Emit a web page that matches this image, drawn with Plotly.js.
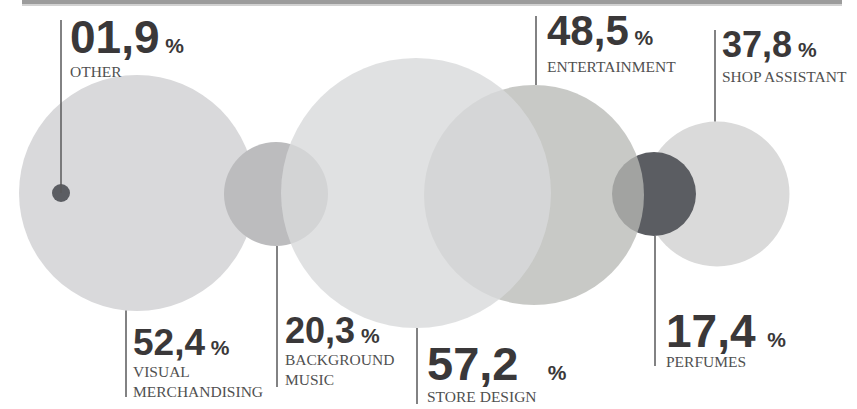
<!DOCTYPE html>
<html>
<head>
<meta charset="utf-8">
<script src="https://cdn.plot.ly/plotly-3.0.1.min.js"></script>
<style>html,body{margin:0;padding:0;background:#fff;}#chart{width:857px;height:409px;}</style>
</head>
<body>
<div id="chart"></div>
<script>
// ---- data (drawing order: back to front) ----
const categories = ['VISUAL MERCHANDISING', 'OTHER', 'BACKGROUND MUSIC', 'SHOP ASSISTANT', 'PERFUMES', 'ENTERTAINMENT', 'STORE DESIGN'];
const labelText  = ['VISUAL<br>MERCHANDISING', 'OTHER', 'BACKGROUND<br>MUSIC', 'SHOP ASSISTANT', 'PERFUMES', 'ENTERTAINMENT', 'STORE DESIGN'];
const values     = [52.4, 1.9, 20.3, 37.8, 17.4, 48.5, 57.2];

// ---- layout (positions in plot units, 1 unit = 1 px) ----
const cx      = [137, 61, 276, 717, 654, 534, 416];
const cy      = [193, 193, 194, 194, 194, 195, 193];
const radius  = [118, 9, 52, 72.5, 42, 110, 135];
const side    = ['bottom', 'top', 'bottom', 'top', 'bottom', 'top', 'bottom'];
const lineX   = [126, 61, 277, 715, 655, 536, 417];
const lineEnd = [397, 20, 387, 30, 366, 16, 404];
const numX    = [131, 68, 283, 720, 664, 545, 425];
const numBase = [355, 53, 343, 57, 347, 45, 380];
const labBase = [377, 77, 365, 82, 367, 72, 402];

// ---- styles ----
const fill    = ['#d9d9db', '#5b5d62', '#bcbcbe', '#dadada', '#5b5d62', 'rgb(184,185,181)', 'rgb(216,217,219)'];
const alpha   = [1, 1, 1, 1, 1, 0.77, 0.8];
const numSize = [37, 46, 36, 36, 46, 42, 47];
const pctGap  = [1, 1, 1, 1, 2, 1, 5];
const pctSize = 21;
const labSize = 15.5;
const numColor = '#3a3839';
const labColor = '#505050';
const lineColor = '#58585a';

// circles
const circles = {
  type: 'scatter', mode: 'markers', x: cx, y: cy, hoverinfo: 'skip',
  marker: { size: radius.map(r => 2 * r), color: fill, opacity: alpha, line: { width: 0 } }
};

// leader lines from circle edge to label
const lx = [], ly = [];
for (let i = 0; i < cx.length; i++) {
  const dx = lineX[i] - cx[i];
  const h = Math.sqrt(Math.max(radius[i] * radius[i] - dx * dx, 0));
  const start = categories[i] === 'OTHER' ? cy[i] : (side[i] === 'top' ? cy[i] - h : cy[i] + h);
  lx.push(lineX[i], lineX[i], null);
  ly.push(start, lineEnd[i], null);
}
const lines = {
  type: 'scatter', mode: 'lines', x: lx, y: ly, hoverinfo: 'skip',
  line: { color: lineColor, width: 1.5 }
};

function fmt(v) { return v.toFixed(1).replace('.', ',').padStart(4, '0'); }

const annotations = [];
for (let i = 0; i < values.length; i++) {
  const f = numSize[i];
  annotations.push({
    xref: 'x', yref: 'y', x: numX[i], y: numBase[i] + 2 + 0.212 * f,
    xanchor: 'left', yanchor: 'bottom', showarrow: false, align: 'left',
    text: fmt(values[i]) + '<span style="font-size:' + pctSize + 'px">' + '\u00A0'.repeat(pctGap[i]) + '%</span>',
    font: { family: 'Liberation Sans, Arial, sans-serif', size: f, color: numColor, weight: 700 }
  });
  annotations.push({
    xref: 'x', yref: 'y', x: numX[i], y: labBase[i] - 2 - 0.891 * labSize,
    xanchor: 'left', yanchor: 'top', showarrow: false, align: 'left',
    text: labelText[i],
    font: { family: 'Liberation Serif, Times New Roman, serif', size: labSize, color: labColor }
  });
}

const layout = {
  width: 857, height: 409,
  margin: { l: 0, r: 0, t: 0, b: 0 },
  paper_bgcolor: '#ffffff', plot_bgcolor: '#ffffff',
  showlegend: false,
  xaxis: { range: [0, 857], visible: false, fixedrange: true },
  yaxis: { range: [409, 0], visible: false, fixedrange: true },
  annotations: annotations,
  shapes: [
    { type: 'rect', xref: 'x', yref: 'y', x0: 22, x1: 842, y0: 0, y1: 4, fillcolor: '#9c9c9c', line: { width: 0 }, layer: 'above' },
    { type: 'rect', xref: 'x', yref: 'y', x0: 22, x1: 842, y0: 4, y1: 6, fillcolor: '#d2d2d2', line: { width: 0 }, layer: 'above' }
  ]
};

Plotly.newPlot('chart', [circles, lines], layout, { staticPlot: true, displayModeBar: false });
</script>
</body>
</html>
